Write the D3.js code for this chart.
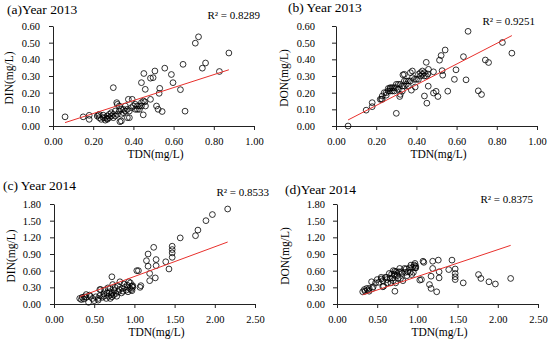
<!DOCTYPE html>
<html>
<head>
<meta charset="utf-8">
<script src="https://cdn.jsdelivr.net/npm/d3@7"></script>
<style>
body { margin: 0; background: #fff; }
svg { display: block; font-family: "Liberation Serif", "Times New Roman", serif; }
</style>
</head>
<body>
<svg width="550" height="345"></svg>
<script>
// 2013 samples: TDN, DIN, DON (mg/L)
const tdn2013 = [0.06, 0.15, 0.18, 0.18, 0.226, 0.30, 0.317, 0.333, 0.375, 0.394, 0.44, 0.452, 0.485, 0.498, 0.507, 0.459, 0.457, 0.449, 0.485, 0.515, 0.523, 0.531, 0.528, 0.543, 0.556, 0.589, 0.597, 0.634, 0.647, 0.657, 0.708, 0.724, 0.743, 0.759, 0.828, 0.875,
  0.22, 0.23, 0.23, 0.24, 0.25, 0.26, 0.26, 0.27, 0.27, 0.28, 0.28, 0.29, 0.29, 0.30, 0.31, 0.32, 0.32, 0.33, 0.33, 0.34, 0.34, 0.34, 0.35, 0.35, 0.36, 0.36, 0.37, 0.37, 0.38, 0.38, 0.39, 0.40, 0.41, 0.41, 0.42, 0.42, 0.43, 0.43, 0.44, 0.44, 0.45, 0.46, 0.25, 0.27, 0.30, 0.31];
const din2013 = [0.055, 0.055, 0.064, 0.040, 0.065, 0.23, 0.14, 0.026, 0.16, 0.16, 0.26, 0.315, 0.287, 0.29, 0.33, 0.22, 0.145, 0.067, 0.16, 0.12, 0.10, 0.226, 0.196, 0.087, 0.347, 0.309, 0.26, 0.218, 0.37, 0.089, 0.497, 0.535, 0.347, 0.378, 0.327, 0.438,
  0.06, 0.07, 0.05, 0.04, 0.05, 0.035, 0.05, 0.04, 0.045, 0.05, 0.07, 0.06, 0.08, 0.05, 0.06, 0.13, 0.07, 0.09, 0.12, 0.07, 0.10, 0.03, 0.08, 0.10, 0.09, 0.12, 0.10, 0.05, 0.09, 0.05, 0.11, 0.12, 0.10, 0.13, 0.12, 0.10, 0.12, 0.10, 0.14, 0.12, 0.15, 0.12, 0.065, 0.06, 0.07, 0.09];
const don2013 = [0.00, 0.095, 0.116, 0.140, 0.161, 0.076, 0.177, 0.307, 0.215, 0.234, 0.18, 0.137, 0.198, 0.208, 0.177, 0.239, 0.312, 0.382, 0.325, 0.395, 0.423, 0.305, 0.332, 0.456, 0.209, 0.28, 0.337, 0.416, 0.277, 0.568, 0.211, 0.189, 0.396, 0.381, 0.501, 0.437,
  0.16, 0.16, 0.18, 0.20, 0.20, 0.225, 0.21, 0.23, 0.225, 0.23, 0.21, 0.23, 0.21, 0.25, 0.25, 0.19, 0.25, 0.24, 0.21, 0.27, 0.24, 0.31, 0.27, 0.25, 0.27, 0.24, 0.27, 0.32, 0.29, 0.33, 0.28, 0.28, 0.31, 0.28, 0.30, 0.32, 0.31, 0.33, 0.30, 0.32, 0.30, 0.34, 0.185, 0.21, 0.23, 0.22];

// 2014 samples: TDN, DIN, DON (mg/L)
const tdn2014 = [0.32, 0.35, 0.37, 0.38, 0.40, 0.43, 0.44, 0.45, 0.48, 0.50, 0.52, 0.57, 0.55, 0.57, 0.58, 0.60, 0.62, 0.63, 0.65, 0.66, 0.68, 0.69, 0.70, 0.71, 0.72, 0.72, 0.73, 0.74, 0.75, 0.76, 0.77, 0.78, 0.80, 0.81, 0.82, 0.84, 0.85, 0.86, 0.88, 0.90, 0.91, 0.92, 0.94, 0.95, 0.96, 0.97, 0.97, 0.98, 1.07, 1.08, 0.40, 0.34, 0.55, 0.62, 0.67, 0.70, 0.79, 0.87, 0.93,
  0.72, 0.98, 1.03, 1.05, 1.15, 1.17, 1.17, 1.19, 1.19, 1.24, 1.27, 1.27, 1.26, 1.39, 1.43, 1.47, 1.47, 1.47, 1.47, 1.57, 1.76, 1.79, 1.89, 1.97, 2.16];
const din2014 = [0.10, 0.12, 0.09, 0.13, 0.12, 0.03, 0.16, 0.14, 0.10, 0.06, 0.13, 0.26, 0.10, 0.15, 0.26, 0.12, 0.18, 0.25, 0.10, 0.20, 0.14, 0.22, 0.28, 0.17, 0.13, 0.20, 0.35, 0.16, 0.24, 0.30, 0.19, 0.14, 0.22, 0.26, 0.40, 0.20, 0.28, 0.23, 0.30, 0.25, 0.34, 0.22, 0.28, 0.38, 0.26, 0.32, 0.24, 0.30, 0.30, 0.33, 0.17, 0.08, 0.07, 0.14, 0.29, 0.10, 0.33, 0.36, 0.40,
  0.49, 0.33, 0.60, 0.60, 0.78, 0.90, 0.68, 0.55, 0.42, 1.02, 0.80, 0.69, 0.47, 0.76, 0.63, 1.04, 0.98, 0.92, 0.84, 1.19, 1.23, 1.33, 1.50, 1.61, 1.71];
const don2014 = [0.22, 0.23, 0.28, 0.25, 0.28, 0.40, 0.28, 0.31, 0.38, 0.44, 0.39, 0.31, 0.45, 0.42, 0.32, 0.48, 0.44, 0.38, 0.55, 0.46, 0.54, 0.47, 0.42, 0.54, 0.59, 0.52, 0.38, 0.58, 0.51, 0.46, 0.58, 0.64, 0.58, 0.55, 0.42, 0.64, 0.57, 0.63, 0.58, 0.65, 0.57, 0.70, 0.66, 0.57, 0.70, 0.65, 0.73, 0.68, 0.77, 0.75, 0.23, 0.26, 0.48, 0.48, 0.38, 0.60, 0.46, 0.51, 0.53,
  0.23, 0.65, 0.43, 0.44, 0.35, 0.28, 0.50, 0.64, 0.77, 0.22, 0.47, 0.58, 0.79, 0.62, 0.79, 0.44, 0.49, 0.55, 0.63, 0.38, 0.53, 0.46, 0.40, 0.36, 0.46];

const panelTitles = ["(a)Year 2013", "(b) Year 2013", "(c) Year 2014", "(d)Year 2014"];
const yTitles = ["DIN(mg/L)", "DON(mg/L)", "DIN(mg/L)", "DON(mg/L)"];
const xTitle = "TDN(mg/L)";
const r2Labels = ["R² = 0.8289", "R² = 0.9251", "R² = 0.8533", "R² = 0.8375"];
// linear trend lines
const fitSlopes = [0.389, 0.621, 0.535, 0.484];
const fitIntercepts = [-0.003, -0.001, -0.04, 0.01];
const xTicks2013 = [0, 0.2, 0.4, 0.6, 0.8, 1.0];
const yTicks2013 = [0, 0.1, 0.2, 0.3, 0.4, 0.5, 0.6];
const xTicks2014 = [0, 0.5, 1.0, 1.5, 2.0, 2.5];
const yTicks2014 = [0, 0.3, 0.6, 0.9, 1.2, 1.5, 1.8];

const svg = d3.select("svg");
const fmt = d3.format(".2f");

// per-panel layout (the four sub-charts were not aligned identically)
const panels = [
  { xs: tdn2013, ys: din2013, xt: xTicks2013, yt: yTicks2013, left: 53, top: 26, pad: 9, yTitleX: 13, titleX: 7, titleY: 14, r2X: 260, r2Y: 19 },
  { xs: tdn2013, ys: don2013, xt: xTicks2013, yt: yTicks2013, left: 336, top: 26, pad: 17, yTitleX: 288, titleX: 288, titleY: 12, r2X: 535, r2Y: 25 },
  { xs: tdn2014, ys: din2014, xt: xTicks2014, yt: yTicks2014, left: 54, top: 204, pad: 9, yTitleX: 15, titleX: 3, titleY: 190, r2X: 269, r2Y: 196 },
  { xs: tdn2014, ys: don2014, xt: xTicks2014, yt: yTicks2014, left: 337, top: 204, pad: 8, yTitleX: 289, titleX: 285, titleY: 194, r2X: 533, r2Y: 203 }
];
const W = 201, H = 100;

panels.forEach(function(p, k) {
  const x = d3.scaleLinear().domain([0, d3.max(p.xt)]).range([p.left, p.left + W]);
  const y = d3.scaleLinear().domain([0, d3.max(p.yt)]).range([p.top + H, p.top]);

  const xAxis = svg.append("g")
    .attr("transform", "translate(0," + (p.top + H) + ")")
    .call(d3.axisBottom(x).tickValues(p.xt).tickFormat(fmt).tickSize(4).tickSizeOuter(0).tickPadding(8));
  const yAxis = svg.append("g")
    .attr("transform", "translate(" + p.left + ",0)")
    .call(d3.axisLeft(y).tickValues(p.yt).tickFormat(fmt).tickSize(4).tickSizeOuter(0).tickPadding(p.pad));
  [xAxis, yAxis].forEach(function(g) {
    g.attr("font-family", null).attr("font-size", null);
    g.selectAll("path, line").attr("stroke", "#222");
    g.selectAll("text").style("font-size", "10.5px").attr("fill", "#000");
  });

  // points
  svg.append("g").selectAll("circle")
    .data(d3.range(p.xs.length))
    .enter().append("circle")
    .attr("cx", i => x(p.xs[i]))
    .attr("cy", i => y(p.ys[i]))
    .attr("r", 2.9)
    .attr("fill", "none")
    .attr("stroke", "#000")
    .attr("stroke-width", 0.8);

  // trend line across the data range
  const ext = d3.extent(p.xs);
  svg.append("path")
    .datum(ext)
    .attr("d", d3.line().x(d => x(d)).y(d => y(fitSlopes[k] * d + fitIntercepts[k])))
    .attr("stroke", "#e8302c")
    .attr("stroke-width", 1)
    .attr("fill", "none");

  svg.append("text")
    .attr("x", p.titleX).attr("y", p.titleY)
    .style("font-size", "13.5px")
    .text(panelTitles[k]);

  svg.append("text")
    .attr("x", p.r2X).attr("y", p.r2Y)
    .attr("text-anchor", "end")
    .style("font-size", "11px")
    .text(r2Labels[k]);

  svg.append("text")
    .attr("x", p.left + W / 2 + 2).attr("y", p.top + H + 32)
    .attr("text-anchor", "middle")
    .style("font-size", "11.5px")
    .text(xTitle);

  svg.append("text")
    .attr("transform", "translate(" + p.yTitleX + "," + (p.top + H / 2 + 2) + ") rotate(-90)")
    .attr("text-anchor", "middle")
    .style("font-size", "11.5px")
    .text(yTitles[k]);
});
</script>
</body>
</html>
